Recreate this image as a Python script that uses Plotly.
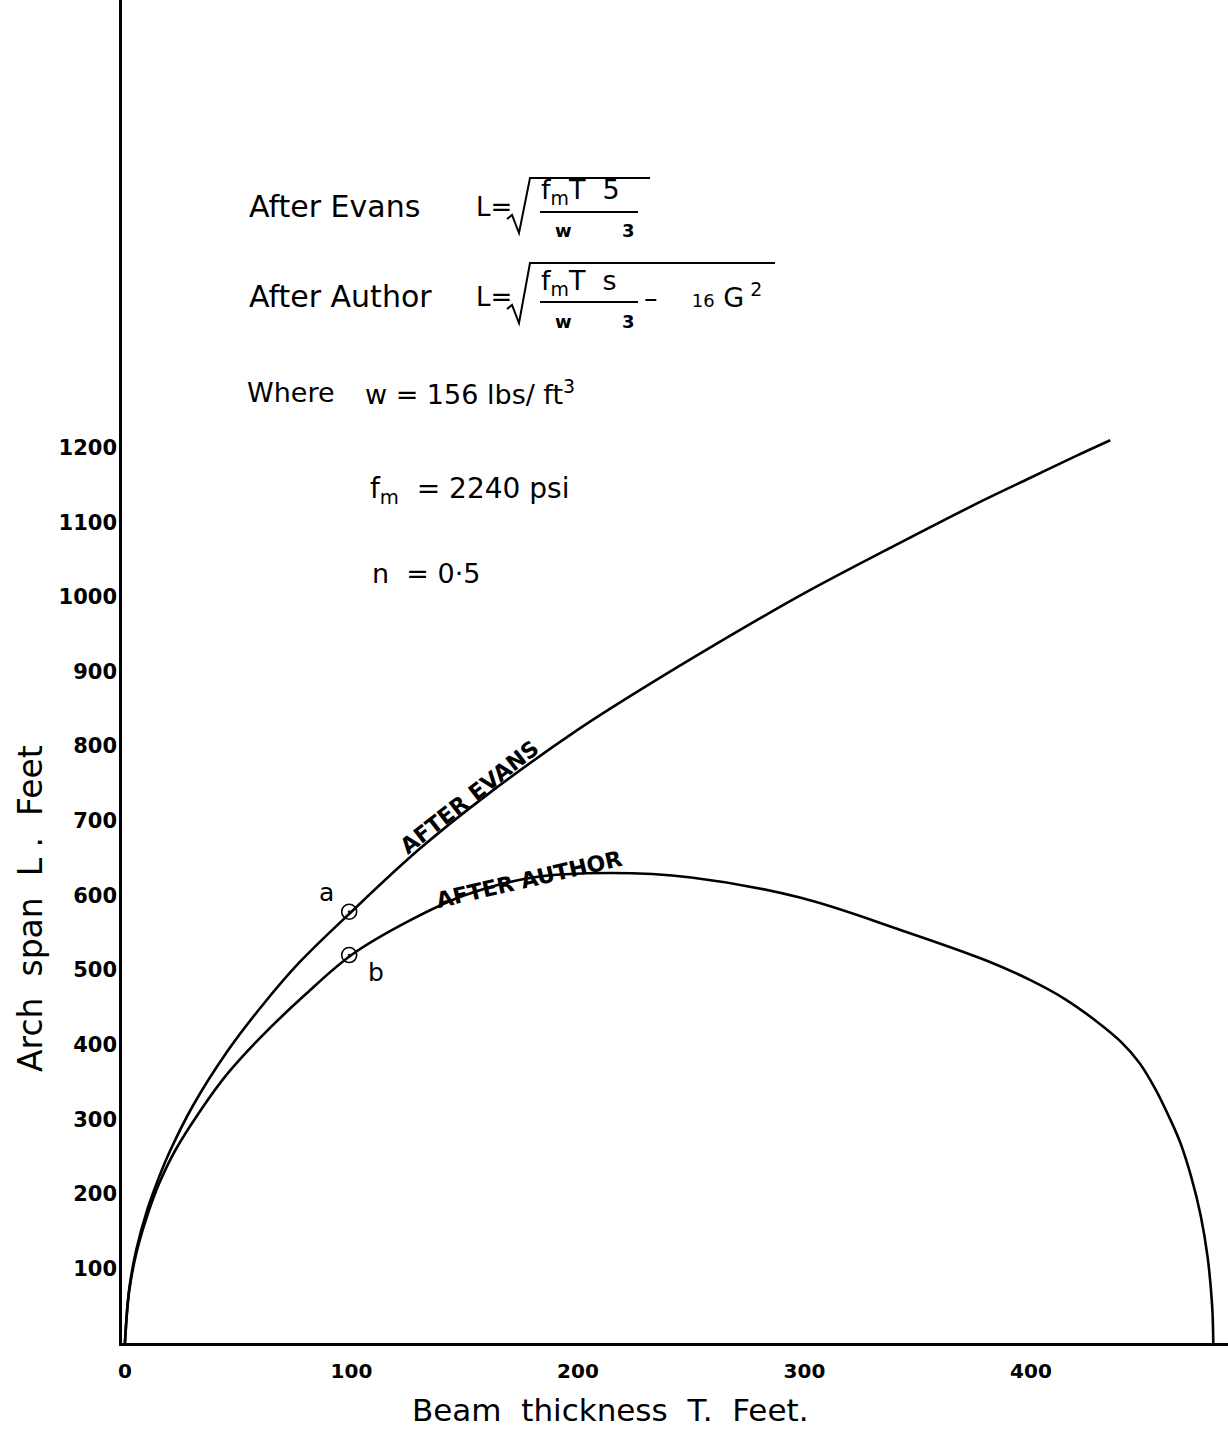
import plotly.graph_objects as go

# ---- data ----
evans_T = [0, 1, 2, 5, 10, 15, 20, 30, 45, 60, 77, 100, 130, 160, 200, 230, 260, 300, 340, 380, 400, 420, 435]
evans_L = [0, 45, 75, 125, 180, 222, 258, 318, 390, 450, 510, 578, 662, 735, 822, 880, 935, 1005, 1069, 1131, 1160, 1189, 1210]

author_T = [0, 1, 2, 5, 10, 15, 22, 33, 45, 60, 80, 100, 125, 150, 180, 214, 250, 298, 343, 380, 400, 415, 429, 440, 448, 455, 461, 466, 471, 475, 478, 480, 480.5]
author_L = [0, 45, 72, 120, 172, 213, 257, 310, 360, 410, 468, 520, 565, 600, 624, 630, 624, 597, 553, 513, 486, 461, 431, 403, 375, 340, 303, 268, 220, 170, 115, 50, 0]

point_labels = ["a", "b"]
point_T = [99, 99]
point_L = [578, 520]

x_ticks = [0, 100, 200, 300, 400]
y_ticks = [100, 200, 300, 400, 500, 600, 700, 800, 900, 1000, 1100, 1200]

FONT = "DejaVu Sans"

fig = go.Figure()
fig.add_trace(go.Scatter(x=evans_T, y=evans_L, mode="lines", line=dict(color="black", width=2.6, shape="spline", smoothing=1.0),
                         showlegend=False, hoverinfo="skip"))
fig.add_trace(go.Scatter(x=author_T, y=author_L, mode="lines", line=dict(color="black", width=2.6, shape="spline", smoothing=1.0),
                         showlegend=False, hoverinfo="skip"))
fig.add_trace(go.Scatter(x=point_T, y=point_L, mode="markers",
                         marker=dict(symbol="circle-open-dot", size=15, color="black", line=dict(width=1.6, color="black")),
                         showlegend=False, hoverinfo="skip"))


def px(x):
    return (x - 122) / 1106


def py(y):
    return (1343 - y) / 1343


ann = []


def text(x, y, s, size=24, anchor="left", angle=0, weight="normal"):
    ann.append(dict(x=px(x), y=py(y), xref="paper", yref="paper", text=s, showarrow=False,
                    xanchor=anchor, yanchor="middle", textangle=angle,
                    font=dict(family=FONT, size=size, color="black", weight=weight)))


# Formula block
text(247, 207, "After Evans", 30)
text(474, 207, "L=", 26)
text(539, 191, "f<sub>m</sub>T&nbsp;&nbsp;5", 27)
text(553, 230, "w", 18, weight="bold")
text(620, 230, "3", 18, weight="bold")

text(247, 297, "After Author", 30)
text(474, 297, "L=", 26)
text(539, 282, "f<sub>m</sub>T&nbsp;&nbsp;s", 27)
text(553, 321, "w", 18, weight="bold")
text(620, 321, "3", 18, weight="bold")
text(642, 295, "–&nbsp;&nbsp;&nbsp;&nbsp;<span style='font-size:18px'>16</span> G<sup> 2</sup>", 27)

text(245, 392, "Where", 27)
text(363, 392, "w = 156 lbs/ ft<sup>3</sup>", 27)
text(368, 490, "f<sub>m</sub>  = 2240 psi", 28)
text(370, 573, "n  = 0·5", 27)

# curve labels
text(469, 797, "AFTER EVANS", 22, anchor="center", angle=-38, weight="bold")
text(529, 879, "AFTER AUTHOR", 22, anchor="center", angle=-13, weight="bold")
text(326, 892, "a", 25, anchor="center")
text(376, 972, "b", 25, anchor="center")

# axis titles
ann.append(dict(x=px(610), y=py(1410), xref="paper", yref="paper", text="Beam  thickness  T.  Feet.",
                showarrow=False, xanchor="center", yanchor="middle", font=dict(family=FONT, size=31, color="black")))
ann.append(dict(x=px(31), y=py(909), xref="paper", yref="paper", text="Arch  span  L .  Feet",
                showarrow=False, xanchor="center", yanchor="middle", textangle=-90,
                font=dict(family=FONT, size=33, color="black")))

shapes = []
# radical signs and fraction bars
for (yb, yt, xr, ybar) in [(233, 178, 650, 212), (323, 263, 775, 302)]:
    path = "M {},{} L {},{} L {},{} L {},{} L {},{}".format(
        px(507), py(yb - 14), px(512), py(yb - 18), px(519), py(yb), px(530), py(yt), px(xr), py(yt))
    shapes.append(dict(type="path", path=path, xref="paper", yref="paper", line=dict(color="black", width=2)))
    shapes.append(dict(type="line", x0=px(540), x1=px(638), y0=py(ybar), y1=py(ybar), xref="paper", yref="paper",
                       line=dict(color="black", width=2)))

fig.update_layout(
    width=1228, height=1444, autosize=False,
    margin=dict(l=122, r=0, t=0, b=101),
    paper_bgcolor="white", plot_bgcolor="white",
    annotations=ann, shapes=shapes,
    xaxis=dict(range=[-1.3, 487], tickvals=x_ticks, ticktext=[str(v) for v in x_ticks],
               showgrid=False, zeroline=False, showline=True, linecolor="black", linewidth=2.6,
               ticks="", ticklabelstandoff=8,
               tickfont=dict(family=FONT, size=20, color="black", weight="bold")),
    yaxis=dict(range=[0, 1800], tickvals=y_ticks, ticktext=[str(v) for v in y_ticks],
               showgrid=False, zeroline=False, showline=True, linecolor="black", linewidth=2.6,
               ticks="", ticklabelstandoff=-2,
               tickfont=dict(family=FONT, size=21, color="black", weight="bold")),
)

fig.write_html("out.html", config={"displayModeBar": False},
               post_script="document.body.style.margin='0';document.body.style.padding='0';")
